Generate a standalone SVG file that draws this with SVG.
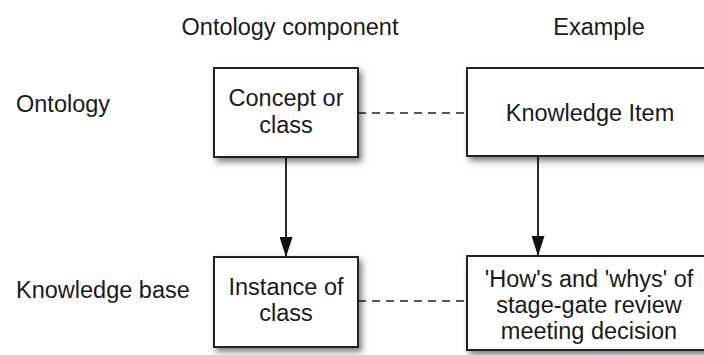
<svg xmlns="http://www.w3.org/2000/svg" width="704" height="355" viewBox="0 0 704 355">
<style>
text{font-family:"Liberation Sans",Arial,sans-serif;font-size:23.5px;fill:#1a1a1a}
.c{text-anchor:middle}
.box{fill:#fff;stroke:#222;stroke-width:2;filter:url(#sh)}
.dash{stroke:#222;stroke-width:1.5;stroke-dasharray:8,6;fill:none}
.arr{stroke:#111;stroke-width:1.8;fill:none;marker-end:url(#ah)}
</style>
<defs>
<filter id="sh" x="-20%" y="-20%" width="140%" height="150%">
<feDropShadow dx="3" dy="4" stdDeviation="3" flood-color="#000" flood-opacity="0.5"/>
</filter>
<marker id="ah" markerWidth="20" markerHeight="13" refX="20" refY="6.5" orient="auto" markerUnits="userSpaceOnUse" viewBox="0 0 20 13">
<path d="M0,0 L20,6.5 L0,13 Z" fill="#111"/>
</marker>
</defs>
<rect width="704" height="355" fill="#fff"/>
<g id="headers">
<text class="c" x="290" y="35">Ontology component</text>
<text class="c" x="599" y="35">Example</text>
</g>
<g id="rowlabels">
<text x="16" y="112">Ontology</text>
<text x="16" y="298">Knowledge base</text>
</g>
<g id="connectors">
<line class="dash" x1="358" y1="113" x2="467" y2="113"/>
<line class="dash" x1="358" y1="301" x2="467" y2="301"/>
<line class="arr" x1="286" y1="157" x2="286" y2="257"/>
<line class="arr" x1="538" y1="157" x2="538" y2="256"/>
</g>
<g id="concept">
<rect class="box" x="214" y="68" width="144" height="89"/>
<text class="c" x="286" y="106">Concept or</text>
<text class="c" x="286" y="133">class</text>
</g>
<g id="knowledge-item">
<rect class="box" x="467" y="68" width="246" height="88"/>
<text class="c" x="590" y="121">Knowledge Item</text>
</g>
<g id="instance">
<rect class="box" x="214" y="257" width="144" height="90"/>
<text class="c" x="286" y="295">Instance of</text>
<text class="c" x="286" y="321">class</text>
</g>
<g id="example">
<rect class="box" x="467" y="256" width="246" height="94"/>
<text class="c" x="589" y="287">'How's and 'whys' of</text>
<text class="c" x="589" y="313">stage-gate review</text>
<text class="c" x="589" y="339">meeting decision</text>
</g>
</svg>
